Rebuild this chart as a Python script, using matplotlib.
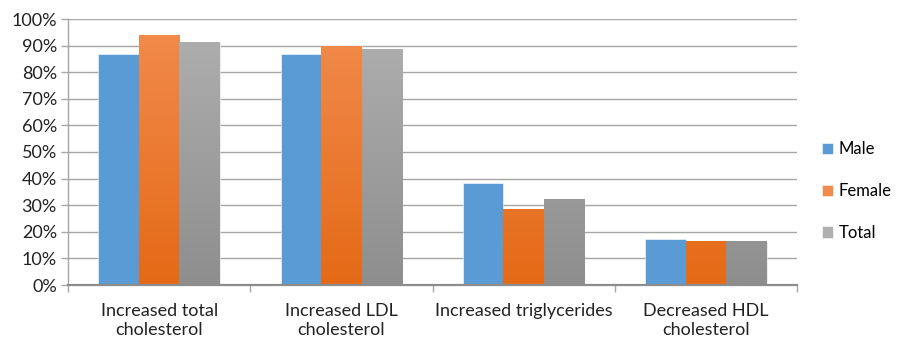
import numpy as np
import matplotlib
matplotlib.use("Agg")
import matplotlib.pyplot as plt
from matplotlib.colors import LinearSegmentedColormap
from matplotlib.patches import Rectangle

plt.rcParams['font.family'] = ['Lato', 'DejaVu Sans']

categories = ["Increased total\ncholesterol", "Increased LDL\ncholesterol",
              "Increased triglycerides", "Decreased HDL\ncholesterol"]
male = [87.0, 86.7, 38.5, 17.2]
female = [94.0, 90.0, 28.5, 16.5]
total = [91.5, 88.8, 32.3, 16.6]
series_names = ["Male", "Female", "Total"]
yticks = list(range(0, 101, 10))

fig = plt.figure(figsize=(8.97, 3.42), dpi=100)
ax = fig.add_axes([68 / 897, 57 / 342, 729 / 897, 266 / 342])

x = np.arange(len(categories))
w = 0.222
grid_c = "#A6A6A6"
fs = 13

def gradient_bars(ax, xs, vals, top_c, bot_c, label):
    cmap = LinearSegmentedColormap.from_list(label, [bot_c, top_c])
    bars = ax.bar(xs, vals, w, color=top_c, label=label, zorder=2,
                  edgecolor="white", linewidth=0.4)
    grad = np.linspace(0, 1, 256).reshape(-1, 1)
    for b in bars:
        x0, y0 = b.get_x(), b.get_y()
        bw, bh = b.get_width(), b.get_height()
        im = ax.imshow(grad, extent=[x0, x0 + bw, 0, 100], origin="lower",
                       aspect="auto", cmap=cmap, zorder=2.5)
        im.set_clip_path(Rectangle((x0, y0), bw, bh, transform=ax.transData))
    return bars

ax.bar(x - w, male, w, color="#5B9BD5", label=series_names[0], zorder=2,
       edgecolor="white", linewidth=0.4)
gradient_bars(ax, x, female, "#F28C4E", "#E46A16", series_names[1])
gradient_bars(ax, x + w, total, "#B0B0B0", "#8E8E8E", series_names[2])

ax.set_xlim(-0.5, len(categories) - 0.5)
ax.set_ylim(0, 100)
ax.set_yticks(yticks)
ax.set_yticklabels([f"{t}%" for t in yticks], fontsize=fs, color="#222222")
ax.yaxis.grid(True, color=grid_c, linewidth=1.0, zorder=0)
ax.set_axisbelow(True)

ax.set_xticks(np.arange(-0.5, len(categories), 1.0))
ax.set_xticklabels([])
ax.set_xticks(x, minor=True)
ax.set_xticklabels(categories, minor=True, fontsize=fs, color="#222222",
                   linespacing=1.25)
ax.tick_params(axis="x", which="major", length=5, color=grid_c, width=1)
ax.tick_params(axis="x", which="minor", length=0, pad=13)
ax.tick_params(axis="y", length=5, color=grid_c, width=1, pad=3)

for s in ["top", "right"]:
    ax.spines[s].set_visible(False)
for s in ["left", "bottom"]:
    ax.spines[s].set_color(grid_c)
    ax.spines[s].set_linewidth(1.0)
ax.spines["bottom"].set_linewidth(1.6)
ax.spines["bottom"].set_color("#8C8C8C")

handles, labels = ax.get_legend_handles_labels()
leg = fig.legend(handles, labels, loc="center left", bbox_to_anchor=(810 / 897, 151 / 342),
                 frameon=False, fontsize=12, handlelength=0.65, handleheight=0.65,
                 handletextpad=0.35, labelspacing=1.55, borderaxespad=0.3)

fig.savefig("out.png", dpi=100)
